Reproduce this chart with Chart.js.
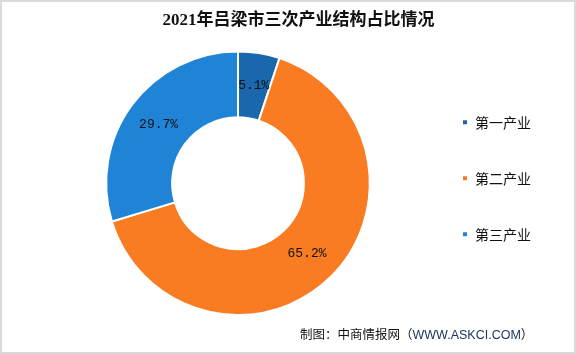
<!DOCTYPE html>
<html>
<head>
<meta charset="utf-8">
<script src="https://cdn.jsdelivr.net/npm/chart.js@4/dist/chart.umd.min.js"></script>
<style>
    html, body { margin: 0; padding: 0; background: #fff; }
    #wrap { position: relative; width: 576px; height: 354px; overflow: hidden; }
    #chart { position: absolute; left: 0; top: 0; }
    #frame { position: absolute; left: 0; top: 0; width: 576px; height: 354px; box-sizing: border-box; border: 2px solid #dadada; pointer-events: none; }
    #source { position: absolute; left: 300px; top: 325px; font: 12.5px "Noto Sans CJK SC", sans-serif; color: #111; white-space: nowrap; line-height: 17px; }
    #source span { color: #1f3560; font-family: "Liberation Sans", "Noto Sans CJK SC", sans-serif; }
</style>
</head>
<body>
<div id="wrap">
    <canvas id="chart" width="576" height="354"></canvas>
    <div id="source">制图：中商情报网（<span>WWW.ASKCI.COM</span>）</div>
    <div id="frame"></div>
</div>
<script>
const chartTitle = '2021年吕梁市三次产业结构占比情况';
const categories = ['第一产业', '第二产业', '第三产业'];
const shares = [5.1, 65.2, 29.7];
const sliceColors = ['#1a67ad', '#f97b22', '#1f84d6'];

// draws the percentage text in the middle of each slice
const sliceLabels = {
    id: 'sliceLabels',
    afterDatasetsDraw(chart) {
        const ctx = chart.ctx;
        const meta = chart.getDatasetMeta(0);
        ctx.save();
        ctx.font = '13px "Liberation Mono", "DejaVu Sans Mono", monospace';
        ctx.fillStyle = '#111';
        ctx.textAlign = 'center';
        ctx.textBaseline = 'middle';
        meta.data.forEach((arc, i) => {
            const pos = arc.getCenterPoint();
            ctx.fillText(shares[i].toFixed(1) + '%', pos.x, pos.y);
        });
        ctx.restore();
    }
};

// legend sits a little above the doughnut centre in the original
const legendNudge = {
    id: 'legendNudge',
    afterLayout(chart) {
        if (chart.legend) {
            chart.legend.top -= 5;
            chart.legend.bottom -= 5;
        }
    }
};

document.addEventListener('DOMContentLoaded', () => {
    const ctx = document.getElementById('chart').getContext('2d');

    new Chart(ctx, {
        type: 'doughnut',
        data: {
            labels: categories,
            datasets: [{
                data: shares,
                backgroundColor: sliceColors,
                borderColor: '#fff',
                borderWidth: 2
            }]
        },
        options: {
            responsive: false,
            animation: false,
            cutout: '50%',
            layout: {
                padding: { top: 0, left: 56, right: 35, bottom: 38 }
            },
            plugins: {
                title: {
                    display: true,
                    text: chartTitle,
                    color: '#111',
                    font: { family: '"Liberation Serif", "Noto Sans CJK SC", serif', size: 17, weight: 'bold' },
                    padding: { top: 10, bottom: 20 }
                },
                legend: {
                    position: 'right',
                    fullSize: false,
                    labels: {
                        boxWidth: 6,
                        boxHeight: 6,
                        padding: 42,
                        color: '#111',
                        font: { family: '"Noto Sans CJK SC", sans-serif', size: 14 }
                    }
                },
                tooltip: { enabled: false }
            }
        },
        plugins: [sliceLabels, legendNudge]
    });
});
</script>
</body>
</html>
